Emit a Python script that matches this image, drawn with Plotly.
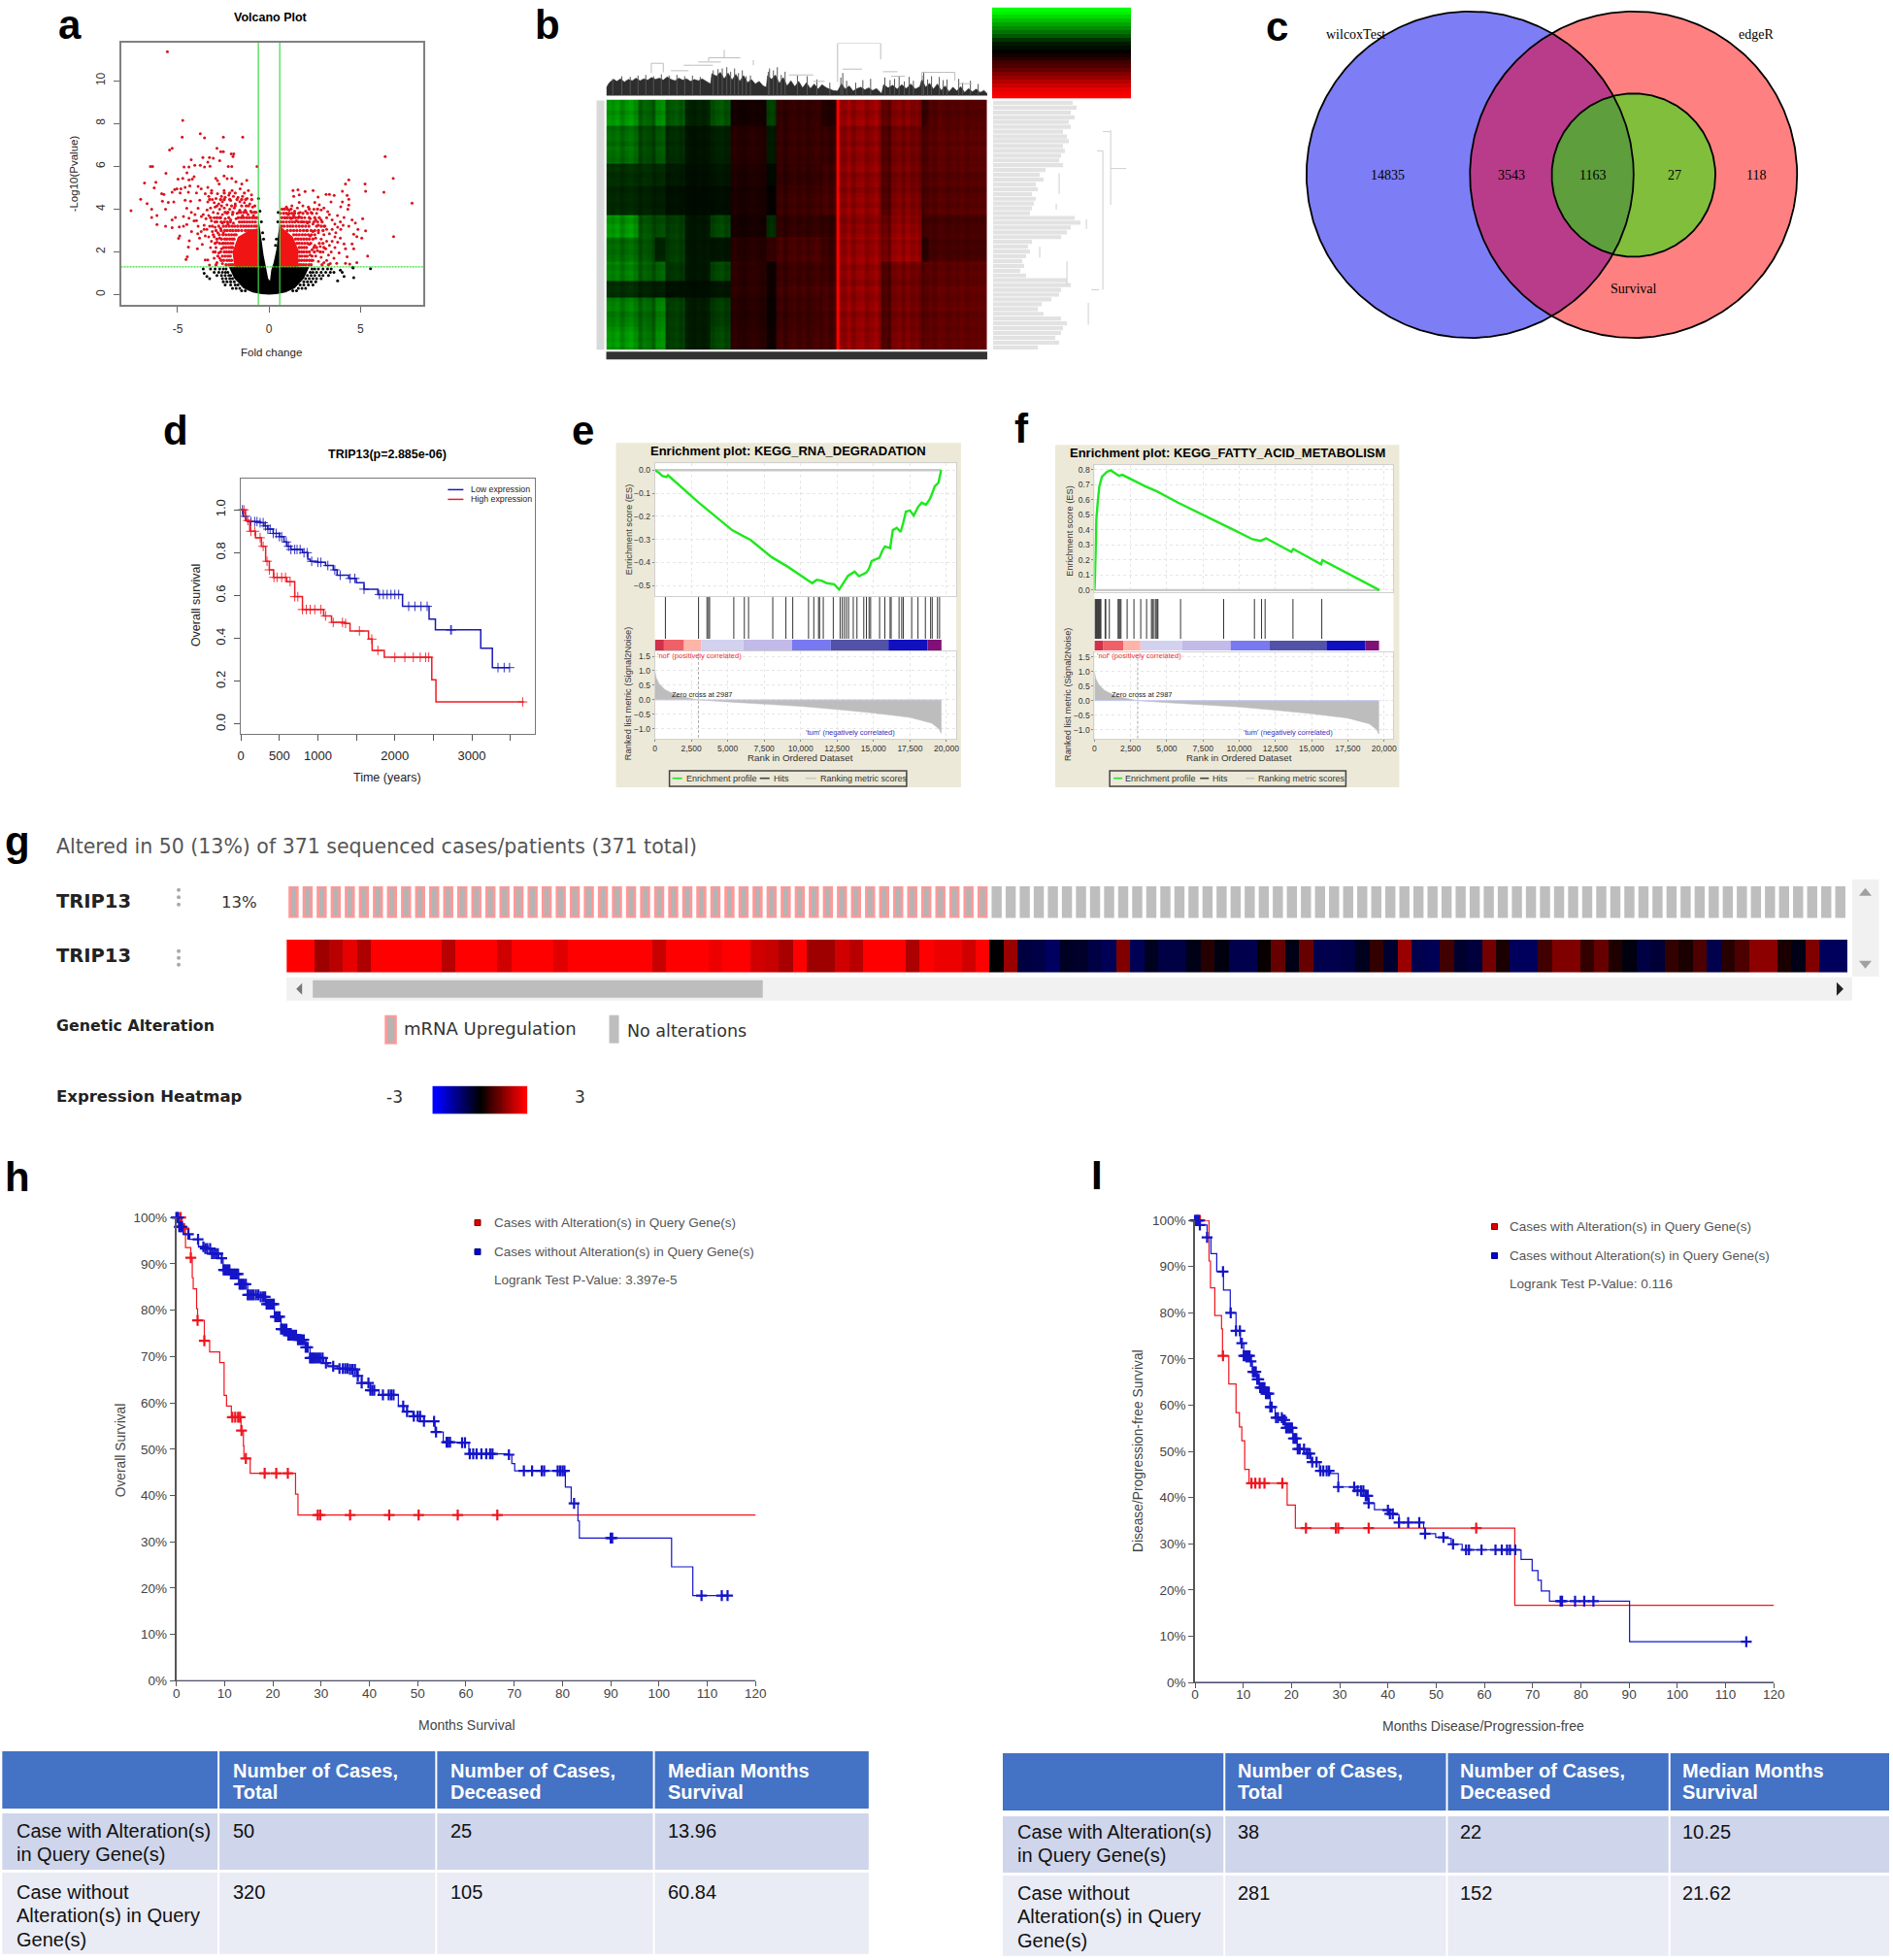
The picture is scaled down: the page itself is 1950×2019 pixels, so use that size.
import numpy as np
import plotly.graph_objects as go

W, H = 1950, 2019
SANS = "Liberation Sans"
SERIF = "Liberation Serif"
DEJA = "DejaVu Sans"

# ---------------- a: volcano ----------------
volcano_left = [(-5.56,11.36),(-4.72,8.15),(-4.75,7.37),(-3.76,7.52),(-3.53,7.33),(-2.5,7.37),(-1.44,7.37),(-5.3,6.84),(-5.44,6.76),(-2.85,6.84),(-2.64,6.68),(-2.5,6.68),(-2.07,6.58),(-1.93,6.58),(-1.97,6.46),(-3.62,6.41),(-3.26,6.41),(-3.05,6.38),(-4.26,6.31),(-2.7,6.26),(-3.76,6.05),(-4.06,6.05),(-4.38,5.97),(-4.65,5.97),(-6.49,5.99),(-6.37,5.99),(-3.53,5.97),(-3.23,6.0),(-3.35,6.2),(-2.23,5.99),(-2.04,5.99),(-0.66,5.99),(-5.64,5.67),(-4.49,5.7),(-4.1,5.52),(-4.2,5.4),(-4.98,5.4),(-4.72,5.44),(-4.38,5.37),(-6.81,5.22),(-6.19,5.25),(-2.91,5.44),(-2.46,5.55),(-2.29,5.43),(-2.04,5.44),(-2.82,5.33),(-2.73,5.18),(-1.81,5.28),(-1.22,5.34),(-1.49,5.18),(-6.28,4.99),(-5.16,4.92),(-5.04,4.95),(-4.82,4.95),(-4.59,5.02),(-4.33,5.09),(-3.88,5.06),(-3.71,4.95),(-3.35,5.02),(-3.14,4.87),(-5.87,4.72),(-5.75,4.69),(-5.3,4.79),(-4.86,4.75),(-4.41,4.79),(-3.97,4.76),(-3.49,4.72),(-2.82,4.72),(-2.46,4.87),(-2.02,4.87),(-1.58,4.95),(-1.13,4.87),(-0.96,4.67),(-7.02,4.46),(-5.83,4.37),(-5.51,4.31),(-5.21,4.34),(-4.59,4.41),(-4.29,4.37),(-3.79,4.41),(-3.35,4.34),(-6.67,4.26),(-7.55,3.93),(-6.42,3.99),(-5.66,3.99),(-4.5,4.04),(-3.88,4.04),(-3.39,3.96),(-6.42,3.61),(-6.13,3.7),(-5.3,3.5),(-5.12,3.61),(-4.68,3.66),(-4.38,3.58),(-3.97,3.46),(-6.13,3.28),(-5.66,3.2),(-5.3,3.13),(-4.91,3.17),(-4.68,3.2),(-4.5,3.28),(-4.24,2.95),(-3.88,3.2),(-3.71,2.95),(-4.89,2.75),(-4.95,2.63),(-4.36,2.52),(-3.49,2.75),(-4.41,2.22),(-3.92,2.14),(-4.47,1.77),(-4.54,1.65),(-3.49,1.62),(-3.35,1.62),(-3.26,1.39),
(-3.3,4.6),(-3.1,4.45),(-3.0,4.3),(-2.9,4.5),(-2.75,4.25),(-2.6,4.6),(-2.55,4.35),(-2.4,4.55),(-2.3,4.2),(-2.2,4.65),(-2.1,4.4),(-1.95,4.6),(-1.85,4.25),(-1.7,4.55),(-1.6,4.35),(-1.45,4.6),(-1.35,4.3),(-1.2,4.5),(-1.05,4.25),(-0.9,4.1),(-3.2,4.05),(-3.05,3.85),(-2.95,4.1),(-2.8,3.8),(-2.7,4.0),(-2.55,3.75),(-2.45,4.05),(-2.3,3.8),(-2.15,4.0),(-2.0,3.75),(-1.9,4.05),(-1.75,3.8),(-1.6,3.95),(-1.45,3.7),(-1.3,3.95),(-1.15,3.75),(-1.0,3.9),(-0.85,3.7),(-3.6,3.75),(-3.45,3.55),(-3.3,3.7),(-3.15,3.45),(-3.0,3.6),(-2.85,3.4),(-2.7,3.6),(-2.55,3.35),(-2.4,3.55),(-2.25,3.3),(-2.1,3.5),(-1.95,3.35),(-1.8,3.55),(-3.55,3.25),(-3.4,3.05),(-3.25,3.2),(-3.1,2.95),(-2.95,3.15),(-2.8,2.9),(-2.65,3.1),(-2.5,2.9),(-3.3,2.7),(-3.15,2.5),(-3.0,2.7),(-2.85,2.45),(-2.7,2.65),(-2.55,2.4),(-3.2,2.2),(-3.05,2.0),(-2.9,2.2),(-2.75,1.95),(-2.6,2.15),(-3.0,1.7),(-2.85,1.5),(-2.7,1.7),(-2.55,1.45),(-3.8,2.65),(-3.65,2.35),(-3.55,3.05),(-3.9,2.85),(-4.1,3.45),(-4.05,3.75),(-4.25,3.85),(-3.7,3.65)]
volcano_right = [(6.35,6.46),(6.79,5.44),(6.28,4.79),(7.82,4.28),(6.81,2.71),(5.25,5.18),(5.28,4.84),(4.36,5.37),(4.18,5.18),(4.01,4.84),(4.27,4.64),(4.36,4.46),(4.01,4.34),(4.36,4.19),(3.92,4.11),(4.31,4.0),(3.56,4.64),(3.3,4.69),(3.12,4.69),(3.39,4.34),(2.68,4.56),(2.41,4.87),(1.97,4.82),(1.58,4.9),(1.35,4.6),(1.65,4.67),(1.65,4.31),(1.31,4.87),(2.5,4.31),(2.85,3.96),(3.21,3.88),(3.74,3.7),(4.1,3.61),(4.54,3.5),(5.12,3.55),(4.72,3.35),(4.36,3.2),(4.86,3.05),(4.63,2.83),(5.28,2.98),(5.07,2.64),(4.8,2.71),(3.92,3.05),(3.65,2.9),(4.1,2.37),(4.54,2.37),(4.63,2.14),(4.18,2.14),(3.83,1.95),(5.39,1.8),(4.27,1.77),(4.8,1.5),(4.41,1.43),(4.18,1.46),(3.7,1.46),
(0.95,4.1),(1.1,3.95),(1.25,4.15),(1.4,3.9),(1.55,4.05),(1.7,3.85),(1.85,4.15),(2.0,3.9),(2.15,4.1),(2.3,3.85),(2.45,4.0),(2.6,3.8),(2.75,4.2),(3.0,4.05),(3.15,3.6),(3.3,3.75),(3.45,3.5),(3.6,3.3),(3.75,3.15),(3.9,3.4),(4.05,3.25),(0.9,3.6),(1.05,3.75),(1.2,3.55),(1.35,3.7),(1.5,3.45),(1.65,3.65),(1.8,3.4),(1.95,3.6),(2.1,3.35),(2.25,3.55),(2.4,3.3),(2.55,3.5),(2.7,3.25),(2.85,3.5),(3.0,3.2),(3.15,3.05),(3.3,2.85),(3.45,3.05),(3.6,2.7),(2.1,3.0),(2.25,2.75),(2.4,2.95),(2.55,2.65),(2.7,2.9),(2.85,2.6),(3.0,2.8),(3.15,2.5),(3.3,2.3),(3.45,2.5),(3.6,2.2),(3.75,2.45),(3.9,2.65),(2.2,2.35),(2.35,2.1),(2.5,2.3),(2.65,2.05),(2.8,2.25),(2.95,2.0),(3.1,2.15),(3.25,1.85),(3.4,2.0),(3.55,1.7),(2.25,1.85),(2.4,1.6),(2.55,1.8),(2.7,1.55),(2.85,1.75),(3.0,1.5),(3.15,1.6),(3.35,1.45)]
volcano_dense_rows_left = {
 1.4:[-2.9,-2.35,-2.2,-2.08,-1.98], 1.6:[-2.62,-2.48,-2.3,-2.17,-2.05], 1.8:[-2.8,-2.55,-2.4,-2.25,-2.12],
 2.0:[-2.95,-2.65,-2.45,-2.32,-2.18,-2.06], 2.2:[-2.48,-2.35,-2.2,-2.08,-2.0], 2.4:[-2.95,-2.7,-2.5,-2.38,-2.25,-2.1,-1.98],
 2.6:[-2.85,-2.6,-2.42,-2.3,-2.15,-2.02,-1.92], 2.8:[-3.05,-2.72,-2.52,-2.36,-2.2,-2.05,-1.9,-1.8],
 3.0:[-2.9,-2.62,-2.42,-2.28,-2.12,-1.98,-1.82,-1.68,-1.5,-1.3,-1.15,-1.0,-.85,-.7],
 3.2:[-3.1,-2.75,-2.5,-2.35,-2.18,-2.02,-1.88,-1.72,-1.55,-1.4,-1.25,-1.1,-.95,-.8,-.68],
 3.4:[-2.95,-2.62,-2.45,-2.28,-2.12,-1.62,-1.48,-1.35,-1.2,-1.05,-.9,-.75],
 3.6:[-3.2,-2.85,-2.65,-2.2,-1.68,-1.52,-1.38,-1.22,-1.08,-.92,-.78,-.66],
 3.85:[-2.4,-2.25,-1.98,-1.65,-1.55,-1.38,-1.25,-.95,-.8,-.72], 4.15:[-2.85,-2.6,-2.05,-1.85,-1.5,-1.25,-1.12,-.78],
 4.45:[-3.25,-2.65,-2.45,-2.15,-1.75,-1.5,-1.28,-.95], 4.75:[-3.15,-2.45,-2.15,-1.85,-1.35]}
volcano_dense_rows_right = {
 1.4:[1.65,1.75,1.88,2.02,2.18,2.3,2.9,3.25], 1.6:[1.65,1.78,1.92,2.05,2.2,2.32], 1.8:[1.68,1.8,1.95,2.08,2.35],
 2.0:[1.65,1.78,1.9,2.05,2.2,2.48,2.8], 2.2:[1.65,1.78,1.92,2.05,2.45,2.6,3.0], 2.4:[1.52,1.65,1.8,1.95,2.1,2.28,2.75,2.95],
 2.6:[1.45,1.6,1.75,1.9,2.05,2.2,2.4], 2.8:[1.35,1.5,1.65,1.82,1.98,2.15,2.32,2.5],
 3.0:[1.0,1.18,1.35,1.52,1.7,1.88,2.05,2.3,2.5,2.7,2.95], 3.2:[.68,.82,1.0,1.15,1.3,1.48,1.65,1.82,2.0,2.18,2.6,2.85,3.05],
 3.4:[.65,.78,.95,1.12,1.28,1.42,1.6,1.75,1.9,2.05,2.2,2.45,2.65,2.9], 3.6:[.7,.85,1.0,1.15,1.3,1.45,1.6,1.78,2.2,2.5,2.75],
 3.8:[.62,.8,.95,1.1,1.25,1.4,1.62,1.85,2.1,2.35], 4.0:[.72,.85,1.0,1.2,2.2,2.65]}
volcano_black_rows = {
 1.2:[-3.2,-2.95,-2.7,-2.5,-2.35,2.35,2.5,2.7,2.95,3.2,3.4], 1.05:[-3.0,-2.75,-2.55,-2.38,-2.25,2.25,2.4,2.6,2.85,3.1,3.35,3.55],
 .9:[-2.85,-2.6,-2.4,-2.2,-2.1,2.1,2.3,2.5,2.75,2.95,3.25], .75:[-2.55,-2.35,-2.15,-2.0,2.0,2.2,2.4,2.6,2.85],
 .6:[-2.5,-2.3,-2.1,-1.9,1.9,2.1,2.3,2.55], .45:[-2.4,-2.1,-1.85,-1.7,1.7,1.9,2.15,2.4], .3:[-2.0,-1.8,-1.6,1.6,1.8,2.0], .18:[-1.5,-1.3,1.3,1.5]}
volcano_black = [(-0.58,4.5),(-0.5,3.9),(-0.42,3.4),(-0.35,2.9),(-0.3,2.6),(0.5,3.85),(0.48,3.4),(0.4,2.6),(0.35,2.3),(5.55,1.22),(4.6,1.25),(4.57,1.28),(4.63,0.8),(3.75,0.65),(3.9,1.15),(4.0,1.05),(4.1,0.85),(-3.6,1.2),(-3.55,1.0),(-3.4,0.85),(-3.25,0.75)]
black_core_x = [-2.2,-1.9,-1.4,-.9,-.4,0,.4,.9,1.4,1.9,2.2,0.6,0.58,0.5,0.4,0.25,0.12,0.05,-0.05,-0.15,-0.3,-0.45,-0.58,-0.6]
black_core_y = [1.3,.75,.3,.1,.02,0,.02,.1,.3,.75,1.3,1.3,3.4,2.7,2.1,1.5,1.15,0.65,0.75,1.2,1.85,2.8,3.6,1.3]
red_core_left_x = [-0.6,-1.9,-2.0,-1.7,-1.1,-0.6]
red_core_left_y = [1.3,1.3,2.0,2.7,3.0,3.1]
red_core_right_x = [0.6,1.6,1.6,1.3,0.9,0.6]
red_core_right_y = [1.3,1.3,2.1,2.7,3.0,3.2]
volcano_vlines = [-0.585, 0.585]
volcano_hline = 1.3

# ---------------- b: heat map ----------------
heat_col_edges = [0,99,149,182,244,322,384,494,524,664,709,719,849,879,974,994,1176]
heat_row_edges = [0,82,197,267,357,427,502,562,612,702,775]
heat_z = [
 [-.5,-.34,-.46,-.3,-.12,-.3,.07,-.22,.18,.12,1,.55,.34,.46,.18,.3],
 [-.38,-.26,-.3,-.16,-.07,-.12,.14,-.09,.2,.2,1,.52,.3,.42,.26,.34],
 [-.16,-.16,-.14,-.09,-.05,-.08,.11,-.03,.18,.22,1,.52,.3,.42,.26,.32],
 [-.14,-.12,-.1,-.06,-.04,-.05,.1,.02,.22,.26,1,.54,.3,.46,.26,.32],
 [-.52,-.3,-.26,-.22,-.08,-.26,.08,-.16,.18,.18,1,.52,.38,.52,.22,.26],
 [-.38,-.3,-.12,-.22,-.08,-.08,.14,.18,.26,.22,1,.56,.42,.56,.14,.26],
 [-.44,-.34,-.34,-.19,-.08,-.26,.16,.05,.22,.22,1,.54,.28,.42,.3,.34],
 [-.16,-.12,-.1,-.06,-.05,-.08,.16,.05,.24,.26,1,.54,.28,.42,.3,.36],
 [-.44,-.37,-.44,-.22,-.1,-.22,.14,.03,.22,.26,1,.54,.28,.42,.3,.36],
 [-.52,-.41,-.49,-.22,-.1,-.26,.16,.05,.24,.26,1,.54,.28,.44,.32,.36],
]
heat_stripe_width = 14
heat_col_stripes = [.12,.05,.15,-.05,.1,.18,.02,-.1,.12,.05,-.15,.08,.15,-.08,.05,.12,-.05,.15,.02,-.12,.1,-.02,.15,-.1,.05,.12,-.08,.02,.15,-.05,-.12,.08,.15,.02,-.1,.05,.12,-.02,.1,-.15,.05,.12,-.05,.1,-.1,.05,.15,-.02,.08,-.12,.1,.02,-.05,.12,-.1,.05,.1,-.08,.02,.12,-.05,.08,-.1,.02,.1,-.05,.12,-.02,.05,-.1,.1,.02,-.08,.08,.02,-.05,.05,-.02,.08,-.05,.05,.02]
heat_row_stripe_width = 16
heat_row_stripes = [.05,.08,-.02,.05,.1,-.05,.02,.05,-.05,.08,.02,-.02,.05,.1,-.05,.02,.05,-.08,.02,.05,-.02,.08,.02,-.05,.05,.02,.08,-.05,.02,-.02,.05,.08,-.02,.05,.02,-.05,.08,.02,-.02,.05,.08,-.05,.02,.05,-.02,.05,.02,.08,-.02]
key_z = [-1,-.95,-.85,-.75,-.65,-.55,-.45,-.35,-.2,-.1,-.05,.02,.08,.15,.25,.3,.4,.5,.6,.7,.8,.9,.95,1]
dendro_top_x = [0,8,16,24,32,44,56,68,80,92,104,116,128,140,152,164,176,188,200,212,224,236,248,260,272,284,296,310,322,326,340,352,364,376,388,400,412,424,436,448,460,472,484,494,498,510,522,534,546,558,570,582,594,606,618,630,642,654,666,680,700,714,726,738,750,762,774,786,798,810,822,834,850,856,870,884,898,912,926,940,954,968,974,986,998,1010,1022,1034,1046,1058,1070,1082,1094,1106,1118,1130,1142,1154,1166,1176]
dendro_top_h = [24,38,46,50,44,52,42,50,46,54,46,52,48,56,50,54,48,58,50,46,54,48,52,44,50,46,52,44,36,68,60,72,52,70,48,66,44,62,40,50,36,44,30,26,62,50,64,38,56,30,46,28,44,24,40,22,36,20,34,24,16,14,36,20,30,14,22,26,18,24,16,22,6,34,24,32,20,34,22,36,20,28,50,26,38,20,36,16,30,12,26,14,28,10,22,12,20,10,16,6]
dendro_spike_x = [20,48,74,98,122,146,170,194,218,242,266,290,330,345,358,372,384,396,408,420,432,445,500,504,516,528,540,552,590,620,650,690,724,730,742,770,792,816,860,876,890,904,920,935,948,975,980,992,1004,1028,1040,1052,1088,1100,1124,1148]
dendro_spike_h = [52,60,58,62,64,60,66,62,64,60,62,58,78,82,84,88,74,84,70,78,60,62,74,84,78,88,64,74,62,60,50,40,56,70,46,40,48,52,56,48,52,60,44,58,46,62,74,50,60,58,48,50,52,40,46,36]
dendro_segments = [(364,142,364,117),(316,117,414,117),(316,117,316,107),(284,104,354,104),(239,94,329,94),(139,100,176,100),(199,77,254,77),(714,162,714,42),(714,162,847,162),(847,162,847,112),(729,82,789,82),(854,74,899,74),(879,60,922,60),(974,72,1076,72),(564,64,639,64),(639,44,674,44),(1089,37,1129,37),(454,110,454,94),(139,100,139,70),(176,100,176,72),(974,72,974,48),(1076,72,1076,46)]
side_lengths = [82,86,80,84,78,80,72,76,78,72,74,70,68,72,54,48,52,44,46,40,44,42,40,38,84,90,80,76,70,40,36,38,34,30,32,28,34,76,80,70,68,60,50,46,52,70,76,72,70,64,68,46]
side_segments = [(121,5.7,121,21.3),(121,13.7,137,13.7),(113,10,113,39),(107,10,113,10),(101,39,109,39),(113,6,121,6),(96,24.3,96,26.3),(68,14.7,68,19),(65,21,65,22.3),(48,30,48,32.3),(98,41.7,98,46.3),(76,33,76,38)]

# ---------------- c: venn ----------------
venn_centers = [(1513.8,178.5),(1682,178.5),(1682,179)]
venn_radii = [168.3,168.3,84.2]
venn_names = ["wilcoxTest","edgeR","Survival"]
venn_counts = ["14835","3543","1163","27","118"]
venn_count_x = [1429,1556,1640,1724,1808]

# ---------------- d: TRIP13 KM ----------------
low_t = [0,30,70,100,250,300,350,420,500,560,600,650,800,870,900,1000,1100,1200,1250,1400,1500,1600,1780,2100,2445,2527,3116,3267,3493]
low_s = [1.0,.97,.95,.945,.94,.925,.91,.89,.875,.85,.83,.815,.80,.77,.76,.755,.74,.72,.695,.68,.66,.63,.605,.55,.49,.44,.354,.264,.264]
high_t = [0,60,116,190,267,322,370,425,596,700,800,1075,1178,1350,1418,1658,1705,1863,2445,2480,2534,3678]
high_s = [1.0,.95,.90,.87,.83,.76,.72,.685,.665,.595,.535,.505,.475,.47,.435,.397,.344,.312,.312,.207,.104,.104]
low_cens = [20,60,130,180,210,250,290,320,350,380,420,460,500,530,590,620,650,700,730,770,820,860,920,1000,1040,1130,1220,1290,1420,1480,1600,1800,1850,1900,1950,2000,2050,2180,2260,2340,2420,2725,2735,3340,3420,3490]
high_cens = [40,90,130,180,250,290,340,370,430,470,530,580,640,700,740,800,850,900,960,1040,1100,1200,1320,1360,1540,1700,1780,2000,2130,2240,2330,2400,2440,3660]
km_d_ticks = [0,500,1000,1500,2000,2500,3000,3500]
km_d_labels = ["0","500","1000","","2000","","3000",""]

# ---------------- e / f: GSEA ----------------
es_e_rank = [0,300,500,794,900,2960,5300,6570,8010,9100,10540,10800,11100,11440,11800,12300,12640,12900,13250,13700,14000,14510,14700,14870,15400,15600,15780,16140,16320,16600,16860,17050,17220,17500,17760,18050,18300,18600,18850,19000,19200,19450,19640]
es_e_val = [0,-.012,-.025,-.03,-.022,-.138,-.26,-.303,-.377,-.418,-.479,-.49,-.475,-.479,-.49,-.495,-.518,-.49,-.458,-.44,-.46,-.444,-.425,-.394,-.38,-.35,-.331,-.338,-.26,-.25,-.268,-.225,-.18,-.175,-.197,-.16,-.141,-.15,-.127,-.105,-.07,-.055,0]
hits_e = [722,2996,3574,3682,3754,5415,6137,6426,8087,8989,9458,10541,10902,11227,11299,11552,12238,12707,12852,12996,13140,13285,13610,13862,14331,14512,14693,14801,15415,15776,16137,16209,16750,16931,17039,17617,18050,18555,18916,19025,19386,19530]
es_f_rank = [0,22,90,134,224,335,515,850,1118,1700,1924,3534,4317,5771,8903,10917,11476,11856,13600,13735,15659,15748,19685]
es_f_val = [0,.043,.28,.473,.58,.688,.753,.785,.796,.759,.766,.688,.656,.581,.434,.338,.327,.344,.254,.273,.172,.2,0]
hits_f = [45,90,134,179,224,268,313,358,403,447,738,783,1029,1633,1700,1767,1834,2259,2729,3199,3602,3937,4004,4071,4206,4273,4340,4385,5950,8926,11051,11543,11789,13713,15704]
strip_edges = [0,620,2000,3180,6070,9400,12070,16020,18700,19660]
strip_colors = ["#D0304A","#F06068","#FFB4A8","#D2D2F0","#C2BAE8","#7878F0","#5252A8","#1010C0","#801078"]
metric_rank = [0,100,300,700,1500,2987,5000,7500,10000,12500,15000,17500,19000,19500,19640,19640]
metric_val = [1.0,.75,.55,.35,.15,0,-.07,-.14,-.22,-.33,-.45,-.6,-.8,-1.0,-1.15,0]
gsea_rank_ticks = [0,2500,5000,7500,10000,12500,15000,17500,20000]
gsea_rank_labels = ["0","2,500","5,000","7,500","10,000","12,500","15,000","17,500","20,000"]
zero_cross = 2987

# ---------------- g: oncoprint ----------------
altered_cases = 50
shown_cases = 111
expression = [1,1,.62,.72,.9,.68,1,1,1,1,1,.72,1,1,1,.82,1,1,1,.88,1,1,1,1,1,1,.78,1,1,1,.93,1,1,.82,.78,.66,1,.62,.62,.82,.72,1,1,1,.68,1,.93,.93,.82,1,
 0,.6,-.25,-.28,-.38,-.14,-.17,-.27,-.33,.5,-.33,-.12,-.27,-.27,-.09,.15,-.06,-.3,-.3,.03,.4,-.09,.4,-.3,-.3,-.27,-.12,.2,-.18,.6,-.3,-.33,.25,-.18,-.24,.45,.1,-.36,-.36,.25,.5,.5,.2,.4,.12,-.06,-.27,-.21,.2,.1,.3,-.3,.15,.3,.55,.55,.1,-.09,.5,-.36,-.36]
legend_scale = [-3,-2.5,-2,-1.5,-1,-.5,0,.5,1,1.5,2,2.5,3]

# ---------------- h: overall survival ----------------
h_alt_t = [0,1.2,1.6,1.9,3,3.3,3.5,4.2,4.4,5.8,6.9,9,9.9,10.4,11.4,13.4,13.9,14,15.3,24.7,25.2,120.55]
h_alt_s = [100,98.5,97.6,93.5,91.3,87,84.6,80.3,77.8,73.4,71,68.7,61.6,59.3,56.9,54,50.7,48,44.8,40.3,35.8,35.8]
h_alt_c = [.9,1.6,3,4.4,5.8,11.6,12.2,12.8,13.2,13.5,14.4,18.3,20.7,23.1,29.3,29.8,36,44.1,50.2,58.3,66.5,120.55]
h_none_t = [0,.5,1.4,2.8,4.6,6,7.4,8.8,9.7,11.1,12.9,14.8,17.1,18.5,20.3,21.7,23.1,25,26.8,27.7,30.5,31.4,33.3,36,37.4,38.4,40.2,42,45.1,46,47.1,49,51.3,53.2,53.6,55.3,58.7,60.6,68.9,69.5,70.1,80.4,80.6,81.8,83,83.2,83.5,102.4,102.6,106.8,107,114.2]
h_none_s = [100,98,96.4,95.3,93.7,93.3,92.2,91.2,88.7,87.8,85.6,83.3,82.9,81.3,78.6,75.9,74.6,73.6,72,69.7,68.6,67.9,67.4,67.2,65.8,64.3,62.7,61.7,61.6,59.3,58.1,57.1,56,56,53.7,51.5,51.4,49,48.8,46.9,45.3,45.3,41.8,38.3,38.2,34.5,30.8,30.8,24.6,24.6,18.4,18.4]
h_none_c = [0,.2,.4,.6,.8,1,1.2,2.5,4.5,5.6,6,6.4,7,7.4,7.8,8.2,8.6,9.4,9.8,10,10.2,10.5,10.8,11,11.3,11.6,11.9,12.2,12.5,12.8,13.1,13.4,13.7,14,14.4,14.8,15.2,15.6,16,16.5,17,17.5,18,18.4,18.7,19,19.3,19.6,19.9,20.2,20.5,20.8,21.1,21.4,21.7,22,22.4,22.8,23.2,23.6,24,24.4,24.8,25.2,25.6,26,26.4,26.8,27.2,27.7,28,28.3,28.6,29,29.4,29.8,30.3,31,32.5,33.8,34.5,35,35.5,36,36.5,37,37.6,38.4,39.8,40.2,40.6,41,42.8,44,44.5,45,47,47.8,49.2,50,50.5,51.3,53.4,53.8,56,56.3,56.7,59.2,59.8,60.8,61.5,62.2,63.2,64.2,65,65.5,68.9,72,73.7,75.7,76.2,79,79.5,80,80.4,82.4,90,90.3,108.8,113,114.2]

# ---------------- i: disease-free survival ----------------
i_alt_t = [0,2.7,2.9,3.2,4.1,5.5,5.7,7,8.5,9.2,9.7,10.3,11.2,19.1,20.8,66.3,120.6]
i_alt_s = [100,100,91.2,85.4,79.4,76.5,70.7,64.6,58.4,55.3,52.3,46.1,43.1,38.4,33.4,16.7,16.7]
i_alt_c = [1,5.8,11.7,12.5,13.4,14.4,18.1,23,29.2,29.7,36,58.3,120.6]
i_none_t = [0,1,2.5,3.3,4.5,5.9,7.3,8.5,9.4,10.1,11.5,11.9,12.9,13.3,14.7,15.6,16.6,18.1,18.7,20.3,21.2,23,24,25.8,28.1,29.7,32.6,33.2,35,36,37.2,39.7,40.3,41.5,42.3,46.6,47.4,47.7,49.9,51.7,53.1,55.4,67.4,67.6,69.9,71.1,71.8,73.5,89.9,90.1,114.2]
i_none_s = [100,99,96.3,92.8,88.9,84.9,80,76.1,73.4,70.7,69.5,67.2,65.6,63.8,62.5,59.6,57.3,56.8,55.1,52.8,50.5,49.5,47.7,45.8,45.2,42.3,42.3,41.5,40.4,38.8,37.4,37.3,36.5,36.3,34.6,34.6,33.4,32.2,31.4,31.2,29.9,28.7,28.7,26.6,24.2,22.1,19.8,17.6,17.6,8.8,8.8]
i_none_c = [0,.2,.4,.6,.8,1,2.5,5.8,7.4,8.5,9.3,9.7,10.1,10.4,10.7,11,11.3,11.6,12,12.3,12.6,12.9,13.2,13.5,13.8,14.1,14.4,14.7,15,15.3,15.6,15.9,16.8,17.2,18,18.3,18.6,18.9,19.2,19.5,19.8,20.1,20.4,20.7,21,21.3,21.7,22.6,23.3,23.8,24.3,25.2,26,26.6,27.3,27.8,29.7,33,33.7,34.4,34.9,35.4,35.8,36,40,40.4,41,42.3,44.2,46.5,47.7,51.5,53.5,56.2,56.8,59.4,62.3,63.6,64.7,65.3,66.4,75.8,76.1,78.8,80.7,82.6,114.3]
km_month_ticks = [0,10,20,30,40,50,60,70,80,90,100,110,120]
km_pct_ticks = [0,10,20,30,40,50,60,70,80,90,100]

# ---------------- tables ----------------
table_header = [["Number of Cases,","Total"],["Number of Cases,","Deceased"],["Median Months","Survival"]]
table_row_names = [["Case with Alteration(s)","in Query Gene(s)"],["Case without","Alteration(s) in Query","Gene(s)"]]
table_h_values = [["50","25","13.96"],["320","105","60.84"]]
table_i_values = [["38","22","10.25"],["281","152","21.62"]]

# ======================================================
fig = go.Figure()
shapes, annos, axes = [], [], {}
axis_count = 0
KX, OX = 1.00888, -5.2
KY, OY = 1.00661, -5.45

def PX(x):
    return (KX*x+OX)/W
def PY(y):
    return 1-(KY*y+OY)/H
def clamp(v):
    return min(1.0, max(0.0, v))

def T(text, x, y, size=13, color="#000", family=SANS, bold=False, anchor="center", angle=0):
    annos.append(dict(text=f"<b>{text}</b>" if bold else text, x=PX(x), y=PY(y), xref="paper", yref="paper",
                      xanchor=anchor, yanchor="middle", showarrow=False, textangle=angle, align="left",
                      font=dict(size=size, color=color, family=family), borderpad=0, bgcolor="rgba(0,0,0,0)"))

def R(x0, y0, x1, y1, fill, line=None, lw=1, layer="below", kind="rect"):
    shapes.append(dict(type=kind, xref="paper", yref="paper", x0=PX(x0), x1=PX(x1), y0=PY(y0), y1=PY(y1),
                       fillcolor=fill, line=dict(color=line or "rgba(0,0,0,0)", width=lw if line else 0), layer=layer))

def TRI(pts, fill):
    path = "M " + " L ".join(f"{PX(x):.5f} {PY(y):.5f}" for x, y in pts) + " Z"
    shapes.append(dict(type="path", xref="paper", yref="paper", path=path, fillcolor=fill, line=dict(width=0), layer="above"))

def AX(x0, x1, y0, y1, xr, yr, xkw=None, ykw=None, hidden=False):
    global axis_count
    axis_count += 1
    n = axis_count
    base = dict(visible=False) if hidden else dict(showgrid=False, zeroline=False)
    xa = dict(domain=[clamp(PX(x0)), clamp(PX(x1))], range=xr, anchor=f"y{n}", fixedrange=True, **base)
    ya = dict(domain=[clamp(PY(y1)), clamp(PY(y0))], range=yr, anchor=f"x{n}", fixedrange=True, **base)
    xa.update(xkw or {}); ya.update(ykw or {})
    axes[f"xaxis{n}"] = xa; axes[f"yaxis{n}"] = ya
    return dict(xaxis=f"x{n}", yaxis=f"y{n}")

def fill_poly(xs, ys, color, ref):
    fig.add_trace(go.Scatter(x=xs, y=ys, mode="lines", fill="toself", fillcolor=color, line=dict(width=0), hoverinfo="skip", **ref))

def seglines(segs):
    xs, ys = [], []
    for a, b, c, d in segs:
        xs += [a, c, None]; ys += [b, d, None]
    return xs, ys

def rows_to_xy(rows):
    xs, ys = [], []
    for yv, xvals in rows.items():
        xs += xvals; ys += [yv]*len(xvals)
    return xs, ys

# panel letters
for s, x, y in [("a",73,24),("b",565,24),("c",1315,26),("d",182,442),("e",601,442),("f",1052,440),("g",19,866),("h",19,1212),("I",1130,1210)]:
    T(s, x, y, size=42, bold=True)

# ---- a ----
ref = AX(125.6, 437, 42, 313, [-8.1, 8.45], [-0.49, 11.8],
         dict(showline=True, mirror=True, linecolor="#808080", linewidth=1.6, ticks="outside", ticklen=6, tickcolor="#666",
              tickvals=[-5,0,5], ticktext=["-5","0","5"], tickfont=dict(size=12,color="#333",family=SANS), ticklabelstandoff=6),
         dict(showline=True, mirror=True, linecolor="#808080", linewidth=1.6, ticks="outside", ticklen=6, tickcolor="#666",
              tickvals=[0,2,4,6,8,10], tickangle=-90, tickfont=dict(size=12,color="#333",family=SANS), ticklabelstandoff=4))
fill_poly(black_core_x, black_core_y, "#000000", ref)
fill_poly(red_core_left_x, red_core_left_y, "#F01414", ref)
fill_poly(red_core_right_x, red_core_right_y, "#F01414", ref)
lx, ly = rows_to_xy(volcano_dense_rows_left); rx, ry = rows_to_xy(volcano_dense_rows_right)
fig.add_trace(go.Scatter(x=lx+rx, y=ly+ry, mode="markers", marker=dict(size=3.4, color="#E81420", line=dict(width=0)), hoverinfo="skip", **ref))
fig.add_trace(go.Scatter(x=[p[0] for p in volcano_left+volcano_right], y=[p[1] for p in volcano_left+volcano_right], mode="markers",
                         marker=dict(size=3, color="#D8141E", line=dict(width=0)), hoverinfo="skip", **ref))
bx, by = rows_to_xy(volcano_black_rows)
fig.add_trace(go.Scatter(x=[p[0] for p in volcano_black]+bx, y=[p[1] for p in volcano_black]+by, mode="markers",
                         marker=dict(size=3, color="#000", line=dict(width=0)), hoverinfo="skip", **ref))
for v in volcano_vlines:
    fig.add_trace(go.Scatter(x=[v,v], y=[-0.49,11.8], mode="lines", line=dict(color="#42D84A", width=1.2), hoverinfo="skip", **ref))
fig.add_trace(go.Scatter(x=[-8.1,8.45], y=[volcano_hline]*2, mode="lines", line=dict(color="#30E030", width=1.4, dash="2px,1px"), hoverinfo="skip", **ref))
T("Volcano Plot", 280, 16, 12.5, bold=True)
T("Fold change", 280, 362, 11.5, "#222")
T("-Log10(Pvalue)", 78, 177, 11.5, "#222", angle=-90)

# ---- b ----
GR = [[0,"#00FF00"],[.5,"#000000"],[1,"#FF0000"]]
R(615,102,623,359,"#D9D9D9")
R(625,361,1017,369,"#333333")
ref = AX(625, 1017, 101, 359, [0,1176], [775,0], hidden=True)
fine_x = sorted(set(heat_col_edges) | set(range(0,1177,heat_stripe_width)))
fine_y = sorted(set(heat_row_edges) | set(range(0,776,heat_row_stripe_width)))
fine_z = []
for j in range(len(fine_y)-1):
    rb = np.searchsorted(heat_row_edges, fine_y[j], side="right")-1
    rs = heat_row_stripes[min(fine_y[j]//heat_row_stripe_width, len(heat_row_stripes)-1)]
    row = []
    for i in range(len(fine_x)-1):
        cb = np.searchsorted(heat_col_edges, fine_x[i], side="right")-1
        cs = heat_col_stripes[min(fine_x[i]//heat_stripe_width, len(heat_col_stripes)-1)]
        row.append(heat_z[rb][cb]*(1+cs)*(1+rs))
    fine_z.append(row)
fig.add_trace(go.Heatmap(x=fine_x, y=fine_y, z=fine_z, colorscale=GR, zmin=-1, zmax=1, showscale=False, hoverinfo="skip", **ref))
ref = AX(625, 1017, 43, 97, [0,1176], [0,162], hidden=True)
fig.add_trace(go.Scatter(x=dendro_top_x+[1176,0], y=dendro_top_h+[0,0], mode="lines", fill="toself", fillcolor="#2E2E2E", line=dict(color="#2E2E2E",width=.6), hoverinfo="skip", **ref))
sx, sy = seglines([(a,0,a,b) for a,b in zip(dendro_spike_x, dendro_spike_h)])
fig.add_trace(go.Scatter(x=sx, y=sy, mode="lines", line=dict(color="#555555", width=1), hoverinfo="skip", **ref))
sx, sy = seglines(dendro_segments)
fig.add_trace(go.Scatter(x=sx, y=sy, mode="lines", line=dict(color="#BDBDBD", width=1), hoverinfo="skip", **ref))
ref = AX(1022, 1165, 6, 100, [-0.5,0.5], [len(key_z)-.5,-.5], hidden=True)
fig.add_trace(go.Heatmap(z=[[v] for v in key_z], colorscale=GR, zmin=-1, zmax=1, showscale=False, hoverinfo="skip", **ref))
ref = AX(1023, 1165, 102, 359, [0,142], [51.5,-.5], hidden=True)
fig.add_trace(go.Bar(x=side_lengths, y=list(range(len(side_lengths))), orientation="h", width=.85, marker=dict(color="#E2E2E2", line=dict(width=0)), hoverinfo="skip", **ref))
sx, sy = seglines(side_segments)
fig.add_trace(go.Scatter(x=sx, y=sy, mode="lines", line=dict(color="#CFCFCF", width=1), hoverinfo="skip", **ref))

# ---- c ----
ref = AX(1330, 1860, 6, 355, [1330,1860], [355,6], hidden=True)
theta = np.linspace(0, 2*np.pi, 361)
def circ(c, r):
    return c[0]+r*np.cos(theta), c[1]+r*np.sin(theta)
def inter(ca, ra, cb, rb):
    ax, ay = circ(ca, ra); bx_, by_ = circ(cb, rb)
    ia = (ax-cb[0])**2+(ay-cb[1])**2 <= rb**2
    ib = (bx_-ca[0])**2+(by_-ca[1])**2 <= ra**2
    x = np.r_[ax[ia], bx_[ib]]; y = np.r_[ay[ia], by_[ib]]
    o = np.argsort(np.arctan2(y-y.mean(), x-x.mean()))
    return np.r_[x[o], x[o][0]], np.r_[y[o], y[o][0]]
(c0,c1,c2),(r0,r1,r2) = venn_centers, venn_radii
for (cc, rr, col) in [(c0,r0,"#7D7DF5"),(c1,r1,"#FF8080")]:
    x,y = circ(cc,rr); fill_poly(list(x),list(y),col,ref)
x,y = inter(c0,r0,c1,r1); fill_poly(list(x),list(y),"#B93C8A",ref)
x,y = circ(c2,r2); fill_poly(list(x),list(y),"#80BE3C",ref)
x,y = inter(c0,r0,c2,r2); fill_poly(list(x),list(y),"#5E9E3C",ref)
for cc, rr in zip(venn_centers, venn_radii):
    x,y = circ(cc,rr)
    fig.add_trace(go.Scatter(x=x, y=y, mode="lines", line=dict(color="#000", width=1.8), hoverinfo="skip", cliponaxis=False, **ref))
T(venn_names[0], 1396, 34, 14, family=SERIF)
T(venn_names[1], 1808, 34, 14, family=SERIF)
T(venn_names[2], 1682, 296, 14, family=SERIF)
for s, x in zip(venn_counts, venn_count_x):
    T(s, x, 179, 14, family=SERIF)

# ---- d ----
ref = AX(249, 551.6, 492, 755, [0,3820], [-0.045,1.145],
         dict(showline=True, mirror=True, linecolor="#777", linewidth=1.2, ticks="outside", ticklen=6, tickcolor="#555",
              tickvals=km_d_ticks, ticktext=km_d_labels, tickfont=dict(size=13,color="#222",family=SANS), ticklabelstandoff=4),
         dict(showline=True, mirror=True, linecolor="#777", linewidth=1.2, ticks="outside", ticklen=6, tickcolor="#555",
              tickvals=[0,.2,.4,.6,.8,1], ticktext=["0.0","0.2","0.4","0.6","0.8","1.0"], tickangle=-90,
              tickfont=dict(size=13,color="#222",family=SANS), ticklabelstandoff=4))
def step_at(ts, ss, q):
    idx = np.searchsorted(ts, q, side="right")-1
    return [ss[i] for i in idx]
for ts, ss, cs, col in [(low_t,low_s,low_cens,"#1A1AB4"),(high_t,high_s,high_cens,"#EE1C25")]:
    fig.add_trace(go.Scatter(x=ts, y=ss, mode="lines", line=dict(color=col, width=1.5, shape="hv"), hoverinfo="skip", cliponaxis=False, **ref))
    fig.add_trace(go.Scatter(x=cs, y=step_at(ts,ss,cs), mode="markers", marker=dict(symbol="cross-thin", size=7, line=dict(color=col,width=.9)), hoverinfo="skip", cliponaxis=False, **ref))
T("TRIP13(p=2.885e-06)", 400, 467, 12.5, bold=True)
T("Time (years)", 400, 800, 12.5, "#222")
T("Overall survival", 203, 623, 12.5, "#222", angle=-90)
R(462,502.5,478,504,"#1A1AB4",layer="above"); R(462,512.5,478,514,"#EE1C25",layer="above")
T("Low expression", 485, 503, 8.8, "#222", anchor="left")
T("High expression", 485, 513, 8.8, "#222", anchor="left")

# ---- e / f ----
BEIGE = "#ECE9D8"
def gsea(bx0,bx1,by0,by1, px0,px1, top, es_rank, es_val, hits, ytop, ticks_top, hitsbox, stripbox, low, xr, title, title_x, title_y, ylab, leg, txt):
    R(bx0,by0,bx1,by1,BEIGE)
    R(px0,top[0],px1,low[1],"#FFFFFF")
    grid = dict(showgrid=True, gridcolor="#E6E6E6", griddash="dot", gridwidth=1)
    lbl = dict(size=8.5,color="#333",family=SANS)
    r = AX(px0,px1,top[0],top[1],xr,ytop,
           dict(showline=True,mirror=True,linecolor="#D0D0D0",showticklabels=False,tickvals=gsea_rank_ticks,**grid),
           dict(showline=True,mirror=True,linecolor="#D0D0D0",tickvals=ticks_top,tickformat=".1f",tickfont=lbl,ticks="outside",ticklen=2,tickcolor="#888",ticklabelstandoff=0,**grid))
    fig.add_trace(go.Scatter(x=[0,es_rank[-1]],y=[0,0],mode="lines",line=dict(color="#C8C8C8",width=2.4),hoverinfo="skip",**r))
    fig.add_trace(go.Scatter(x=es_rank,y=es_val,mode="lines",line=dict(color="#1EE81E",width=2.4),hoverinfo="skip",cliponaxis=False,**r))
    r = AX(px0,px1,hitsbox[0],hitsbox[1],xr,[0,1],hidden=True)
    hx,hy = seglines([(h,0,h,1) for h in hits])
    fig.add_trace(go.Scatter(x=hx,y=hy,mode="lines",line=dict(color="#333",width=1),hoverinfo="skip",**r))
    r = AX(px0,px1,stripbox[0],stripbox[1],xr,[-.5,.5],hidden=True)
    fig.add_trace(go.Bar(x=np.diff(strip_edges).tolist(),base=strip_edges[:-1],y=[0]*len(strip_colors),orientation="h",width=1,
                         marker=dict(color=strip_colors,line=dict(width=0)),hoverinfo="skip",**r))
    r = AX(px0,px1,low[0],low[1],xr,[-(low[1]-low[2])/low[3],(low[2]-low[0])/low[3]],
           dict(showline=True,mirror=True,linecolor="#D0D0D0",tickvals=gsea_rank_ticks,ticktext=gsea_rank_labels,tickfont=lbl,ticks="outside",ticklen=2,tickcolor="#888",**grid),
           dict(showline=True,mirror=True,linecolor="#D0D0D0",tickvals=[-1,-.5,0,.5,1,1.5],tickformat=".1f",tickfont=lbl,ticks="outside",ticklen=2,tickcolor="#888",**grid))
    fig.add_trace(go.Scatter(x=metric_rank,y=metric_val,mode="lines",fill="tozeroy",fillcolor="#BDBDBD",line=dict(color="#BDBDBD",width=.5),hoverinfo="skip",**r))
    fig.add_trace(go.Scatter(x=[0,metric_rank[-1]],y=[0,0],mode="lines",line=dict(color="#C8C8F0",width=1),hoverinfo="skip",**r))
    fig.add_trace(go.Scatter(x=[zero_cross,zero_cross],y=[-1.3,1.6],mode="lines",line=dict(color="#AAAAAA",width=1,dash="3px,2px"),hoverinfo="skip",**r))
    T(title,title_x,title_y,13,bold=True)
    T("Enrichment score (ES)",ylab[0],ylab[1],9.3,"#333",angle=-90)
    T("Ranked list metric (Signal2Noise)",ylab[2],ylab[3],9.3,"#333",angle=-90)
    T("Rank in Ordered Dataset",(px0+px1)/2-5,780,9.8,"#333")
    T("'nof' (positively correlated)",txt[0],674,7.5,"#F03030",anchor="left")
    T("Zero cross at 2987",txt[1],715,7.5,"#222",anchor="left")
    T("'tum' (negatively correlated)",txt[2],754,7.5,"#3030C0")
    R(leg[0],793,leg[1],809,"#ECE9D8","#444444",1.5,layer="above")
    for lx0,lx1,col,tx,s in leg[2]:
        R(lx0,800,lx1,801.6,col,layer="above")
        T(s,tx,801,9,"#333",anchor="left")

gsea(635,990,455,810,675,985,(476,613),es_e_rank,es_e_val,hits_e,[-0.546,0.03],[0,-.1,-.2,-.3,-.4,-.5],(614,657),(658,669),(670,760,720,30),[0,20667],
     "Enrichment plot: KEGG_RNA_DEGRADATION",812,463,(648.6,544,647.6,714),
     (690,934,[(693,703,"#1EE81E",706,"Enrichment profile"),(783,793,"#444",796,"Hits"),(830,841,"#C8C8C8",844,"Ranking metric scores")]),(676,691,876))
gsea(1087,1441,457,810,1127.3,1435,(478,609),es_f_rank,es_f_val,hits_f,[-0.014,0.83],[0,.1,.2,.3,.4,.5,.6,.7,.8],(616,657),(659,669),(671,760,720.7,30),[0,20657],
     "Enrichment plot: KEGG_FATTY_ACID_METABOLISM",1264,465,(1101.6,546,1100,715),
     (1143,1386,[(1147,1156,"#1EE81E",1158,"Enrichment profile"),(1236,1245,"#444",1248,"Hits"),(1283,1292,"#C8C8C8",1295,"Ranking metric scores")]),(1129,1144,1327))

# ---- g ----
T("Altered in 50 (13%) of 371 sequenced cases/patients (371 total)", 58, 871, 20.5, "#555", family=DEJA, anchor="left")
for y in (928,984):
    T("TRIP13", 58, y, 19.5, "#222", family=DEJA, bold=True, anchor="left")
for ys in ((916,923.5,931),(979,986,993)):
    for y in ys:
        R(183,y-2,187,y+2,"#A8A8A8",kind="circle")
T("13%", 247, 929, 16.5, "#333", family=DEJA)
ref = AX(296, 1902, 912, 945, [-.5,shown_cases-.5], [0,1], hidden=True)
case_ids = list(range(shown_cases))
fig.add_trace(go.Bar(x=case_ids[:altered_cases], y=[1]*altered_cases, width=.72, marker=dict(color="#FF9898",line=dict(width=0)), hoverinfo="skip", **ref))
fig.add_trace(go.Bar(x=case_ids[:altered_cases], y=[.86]*altered_cases, width=.34, base=[.07]*altered_cases, marker=dict(color="#B4B4B4",line=dict(width=0)), hoverinfo="skip", **ref))
fig.add_trace(go.Bar(x=case_ids[altered_cases:], y=[1]*(shown_cases-altered_cases), width=.72, marker=dict(color="#BEBEBE",line=dict(width=0)), hoverinfo="skip", **ref))
ref = AX(296, 1902, 967, 1001, [-.5,shown_cases-.5], [-.5,.5], hidden=True)
BBR = [[0,"#0000FF"],[.5,"#000000"],[1,"#FF0000"]]
fig.add_trace(go.Heatmap(z=[expression], x=case_ids, y=[0], colorscale=BBR, zmin=-1, zmax=1, showscale=False, hoverinfo="skip", **ref))
R(1907,905,1934.5,1005,"#F1F1F1"); R(296,1006,1907,1030,"#F1F1F1"); R(323,1009,786,1027,"#BDBDBD")
TRI([(312,1012),(312,1024),(306,1018)],"#777777")
TRI([(1891,1011),(1891,1025),(1898,1018)],"#222222")
TRI([(1914,922),(1927,922),(1920.5,914)],"#A0A0A0")
TRI([(1914,989),(1927,989),(1920.5,997)],"#A0A0A0")
T("Genetic Alteration", 58, 1056, 15.8, "#222", family=DEJA, bold=True, anchor="left")
T("Expression Heatmap", 58, 1129, 16.5, "#222", family=DEJA, bold=True, anchor="left")
R(397,1045,409.5,1075,"#FF9898"); R(400,1047,407,1073,"#B4B4B4")
T("mRNA Upregulation", 416, 1059, 18, "#333", family=DEJA, anchor="left")
R(628,1045,638,1074,"#BEBEBE")
T("No alterations", 645, 1061, 17.5, "#333", family=DEJA, anchor="left")
T("-3", 407, 1129, 17, "#333", family=DEJA)
T("3", 598, 1129, 17, "#333", family=DEJA)
ref = AX(446, 544, 1118, 1147, [-.5,len(legend_scale)-.5], [-.5,.5], hidden=True)
fig.add_trace(go.Heatmap(z=[legend_scale], colorscale=BBR, zmin=-3, zmax=3, showscale=False, hoverinfo="skip", zsmooth="best", **ref))

# ---- h / i ----
def km(x0,x1,y0,y1, alt_t,alt_s,alt_c, non_t,non_s,non_c, xtitle, ytitle, xt_x, xt_y, yt_x, yt_y, pval, lx, tx, ly):
    tf = dict(size=13.5,color="#444",family=SANS)
    r = AX(x0,x1,y0,y1,[0,120],[0,100],
           dict(showline=True,linecolor="#555",linewidth=1.2,ticks="outside",ticklen=5,tickcolor="#555",tickvals=km_month_ticks,tickfont=tf,ticklabelstandoff=-5),
           dict(showline=True,linecolor="#555",linewidth=1.8,ticks="outside",ticklen=5,tickcolor="#555",tickvals=km_pct_ticks,ticktext=[f"{v}%" for v in km_pct_ticks],tickfont=tf))
    fig.add_trace(go.Scatter(x=[0,120.5],y=[0,0],mode="lines",line=dict(color="#2020C0",width=1.4),hoverinfo="skip",cliponaxis=False,**r))
    for ts,ss,cs,col in [(alt_t,alt_s,alt_c,"#F0141E"),(non_t,non_s,non_c,"#1414C8")]:
        fig.add_trace(go.Scatter(x=ts,y=ss,mode="lines",line=dict(color=col,width=1.2,shape="hv"),hoverinfo="skip",cliponaxis=False,**r))
        fig.add_trace(go.Scatter(x=cs,y=step_at(ts,ss,cs),mode="markers",marker=dict(symbol="cross-thin",size=8,line=dict(color=col,width=2.2)),hoverinfo="skip",cliponaxis=False,**r))
    T(xtitle,xt_x,xt_y,14,"#444")
    T(ytitle,yt_x,yt_y,13.8,"#444",angle=-90)
    R(lx-3,ly-3,lx+3,ly+3,"#E00000","#700000",1,layer="above")
    R(lx-3,ly+27,lx+3,ly+33,"#0000E0","#000070",1,layer="above")
    T("Cases with Alteration(s) in Query Gene(s)",tx,ly,13.5,"#555",anchor="left")
    T("Cases without Alteration(s) in Query Gene(s)",tx,ly+30,13.5,"#555",anchor="left")
    T(f"Logrank Test P-Value: {pval}",tx,ly+59,13.5,"#555",anchor="left")

km(182.6,778.6,1253.7,1731.3,h_alt_t,h_alt_s,h_alt_c,h_none_t,h_none_s,h_none_c,"Months Survival","Overall Survival",482,1777,125,1493,"3.397e-5",492.6,508.6,1259)
km(1230.8,1826.3,1256.6,1733,i_alt_t,i_alt_s,i_alt_c,i_none_t,i_none_s,i_none_c,"Months Disease/Progression-free","Disease/Progression-free Survival",1527,1778,1173,1494.5,"0.116",1539,1553,1263)

# ---- tables ----
def table(xs, ys, tx, values, dy):
    for j in range(4):
        R(xs[j]+1,ys[0],xs[j+1]-1,ys[1],"#4472C4")
        R(xs[j]+1,ys[2],xs[j+1]-1,ys[3],"#CFD5EA")
        R(xs[j]+1,ys[4],xs[j+1]-1,ys[5],"#E9EBF5")
    for j,lines in enumerate(table_header):
        for k,s in enumerate(lines):
            T(s,tx[j+1],ys[0]+20+dy+22.5*k,20,"#FFFFFF",bold=True,anchor="left")
    for k,s in enumerate(table_row_names[0]):
        T(s,tx[0],ys[2]+18+dy+24.5*k,20,"#111",anchor="left")
    for k,s in enumerate(table_row_names[1]):
        T(s,tx[0],ys[4]+20+dy+24.5*k,20,"#111",anchor="left")
    for j in range(3):
        T(values[0][j],tx[j+1],ys[2]+18+dy,20,"#111",anchor="left")
        T(values[1][j],tx[j+1],ys[4]+20+dy,20,"#111",anchor="left")

table([2.5,226,450,674,896],[1804,1863,1868,1926,1929,2013],[17,240,464,687],table_h_values,0)
table([1032,1261,1490,1719,1946],[1806,1865,1871,1929,1932,2015],[1047,1274,1502,1731],table_i_values,-2)

fig.update_layout(width=W, height=H, margin=dict(l=0,r=0,t=0,b=0,pad=0), paper_bgcolor="#FFFFFF", plot_bgcolor="rgba(0,0,0,0)",
                  showlegend=False, barmode="overlay", shapes=shapes, annotations=annos, **axes)
fig.write_html("out.html", config={"displayModeBar": False},
               post_script="document.body.style.margin='0';document.documentElement.style.overflow='hidden';")
